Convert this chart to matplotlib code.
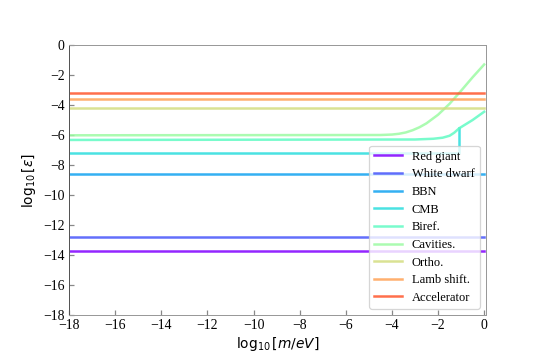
import numpy as np
import matplotlib
matplotlib.use("Agg")
import matplotlib.pyplot as plt

labels = ["Red giant", "White dwarf", "BBN", "CMB", "Biref.", "Cavities.",
          "Ortho.", "Lamb shift.", "Accelerator"]

red_giant_x = [-18, 0]
red_giant_y = [-13.72, -13.72]
white_dwarf_x = [-18, 0]
white_dwarf_y = [-12.77, -12.77]
bbn_x = [-18, 0]
bbn_y = [-8.6, -8.6]
cmb_x = [-18, -1.08, -1.08]
cmb_y = [-7.23, -7.23, -5.55]
biref_x = [-18, -3.0, -2.2, -1.8, -1.5, -1.3, -1.08, -0.5, 0]
biref_y = [-6.33, -6.3, -6.25, -6.18, -6.05, -5.85, -5.55, -5.0, -4.45]
cav_x = [-18, -4.5, -4.0, -3.7, -3.4, -3.1, -2.8, -2.5, -2.0, -1.5, -1.0, -0.5, 0]
cav_y = [-6.02, -6.0, -5.97, -5.92, -5.83, -5.68, -5.48, -5.22, -4.65, -3.92, -3.05, -2.15, -1.3]
ortho_x = [-18, 0]
ortho_y = [-4.2, -4.2]
lamb_x = [-18, 0]
lamb_y = [-3.63, -3.63]
acc_x = [-18, 0]
acc_y = [-3.2, -3.2]

series = [(red_giant_x, red_giant_y), (white_dwarf_x, white_dwarf_y),
          (bbn_x, bbn_y), (cmb_x, cmb_y), (biref_x, biref_y),
          (cav_x, cav_y), (ortho_x, ortho_y), (lamb_x, lamb_y),
          (acc_x, acc_y)]

x_ticks = list(range(-18, 1, 2))
y_ticks = list(range(-18, 1, 2))

colors = plt.cm.rainbow(np.linspace(0, 1, len(labels) + 1))[:len(labels)]

fig = plt.figure(figsize=(6, 4), dpi=90)
ax = fig.add_subplot(111)
for (x, y), c, lab in zip(series, colors, labels):
    ax.plot(x, y, color=c, lw=2, alpha=0.85, label=lab)

ax.set_xlim(-18, 0.08)
ax.set_ylim(-18, 0)
ax.set_xticks(x_ticks)
ax.set_yticks(y_ticks)
ax.tick_params(direction='in', color='#888888', length=4, width=1)
for lab in ax.get_xticklabels() + ax.get_yticklabels():
    lab.set_family('Liberation Serif')
    lab.set_fontsize(11)
for s in ax.spines.values():
    s.set_color('#999999')
ax.spines['left'].set_color('#555555')

ax.set_xlabel(r'$\log_{10}[m/eV]$', fontsize=11, labelpad=2)
ax.set_ylabel(r'$\log_{10}[\varepsilon]$', fontsize=11)

leg = ax.legend(loc='lower right', prop={'family': 'Liberation Serif', 'size': 10},
                borderaxespad=0.5, handlelength=2.2, labelspacing=0.45)

fig.subplots_adjust(left=0.128, right=0.9, bottom=0.125, top=0.875)
fig.savefig('out.png', dpi=90)
